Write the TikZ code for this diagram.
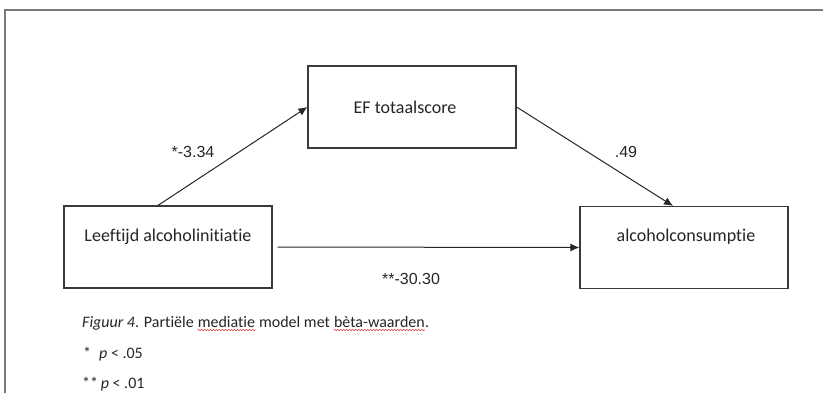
\documentclass[tikz,border=0pt]{standalone}
\usepackage{fontspec}
\setmainfont{Carlito}[Ligatures=NoCommon]
\newfontfamily\arialfont{Liberation Sans}
\usetikzlibrary{arrows.meta,decorations.pathmorphing}
\definecolor{txt}{HTML}{262626}
\definecolor{boxline}{HTML}{3A3A3A}
\definecolor{framegray}{HTML}{7A7A7A}
\definecolor{spellred}{HTML}{E04040}
\begin{document}
\begin{tikzpicture}[x=1pt,y=-1pt,
  varbox/.style={draw=boxline,line width=1.2pt,minimum width=208pt,minimum height=82pt,inner sep=0pt,fill=white},
  vartext/.style={font=\fontsize{18}{20}\selectfont,text=txt,inner sep=0pt},
  coef/.style={font=\arialfont\fontsize{16}{18}\selectfont,text=txt,inner sep=0pt},
  capt/.style={font=\fontsize{16}{18}\selectfont,text=txt,inner sep=0pt,anchor=base west},
  path/.style={draw=black!85,line width=1pt,-{Latex[length=9pt,width=8pt]}},
  squiggle/.style={draw=spellred,line width=0.6pt,decorate,decoration={snake,amplitude=0.8pt,segment length=3pt}}]
\useasboundingbox (0,0) rectangle (823,392);
\fill[white] (0,0) rectangle (823,392);
% page frame
\draw[framegray,line width=1.6pt] (5,395) -- (5,10) -- (830,10);
% boxes
\node[varbox] (lt) at (168,247) {};
\node[varbox] (ef) at (412,107) {};
\node[varbox] (ac) at (684,247.5) {};
\node[vartext] (lttext) at (168,237) {Leeftijd alcoholinitiatie};
\node[vartext] (eftext) at (405,107) {EF totaalscore};
\node[vartext] (actext) at (686,237) {alcoholconsumptie};
% paths
\draw[path] ([xshift=-10pt]lt.north) -- (ef.west);
\draw[path] (ef.east) -- ([xshift=-11pt]ac.north);
\draw[path] ([xshift=5pt]lt.east) -- (ac.west);
% coefficients
\node[coef] (ca) at (193,152) {*-3.34};
\node[coef] (cb) at (626,152) {.49};
\node[coef] (cc) at (411,279) {**-30.30};
% caption
\node[capt] (capa) at (82,327) {\textit{Figuur 4}. Partiële\ \mbox{}};
\node[capt] (capb) at (capa.base east) {mediatie};
\node[capt] (capc) at (capb.base east) {\mbox{}\ model met\ \mbox{}};
\node[capt] (capd) at (capc.base east) {bèta-waarden};
\node[capt] (cape) at (capd.base east) {.};
\draw[squiggle] ([yshift=-3pt]capb.base west) -- ([yshift=-3pt]capb.base east);
\draw[squiggle] ([yshift=-3pt]capd.base west) -- ([yshift=-3pt]capd.base east);
\node[capt] (p1) at (83,358) {*\hspace{8pt}\textit{p} < .05};
\node[capt] (p2) at (82,388) {**\,\textit{p} < .01};
\end{tikzpicture}
\end{document}
